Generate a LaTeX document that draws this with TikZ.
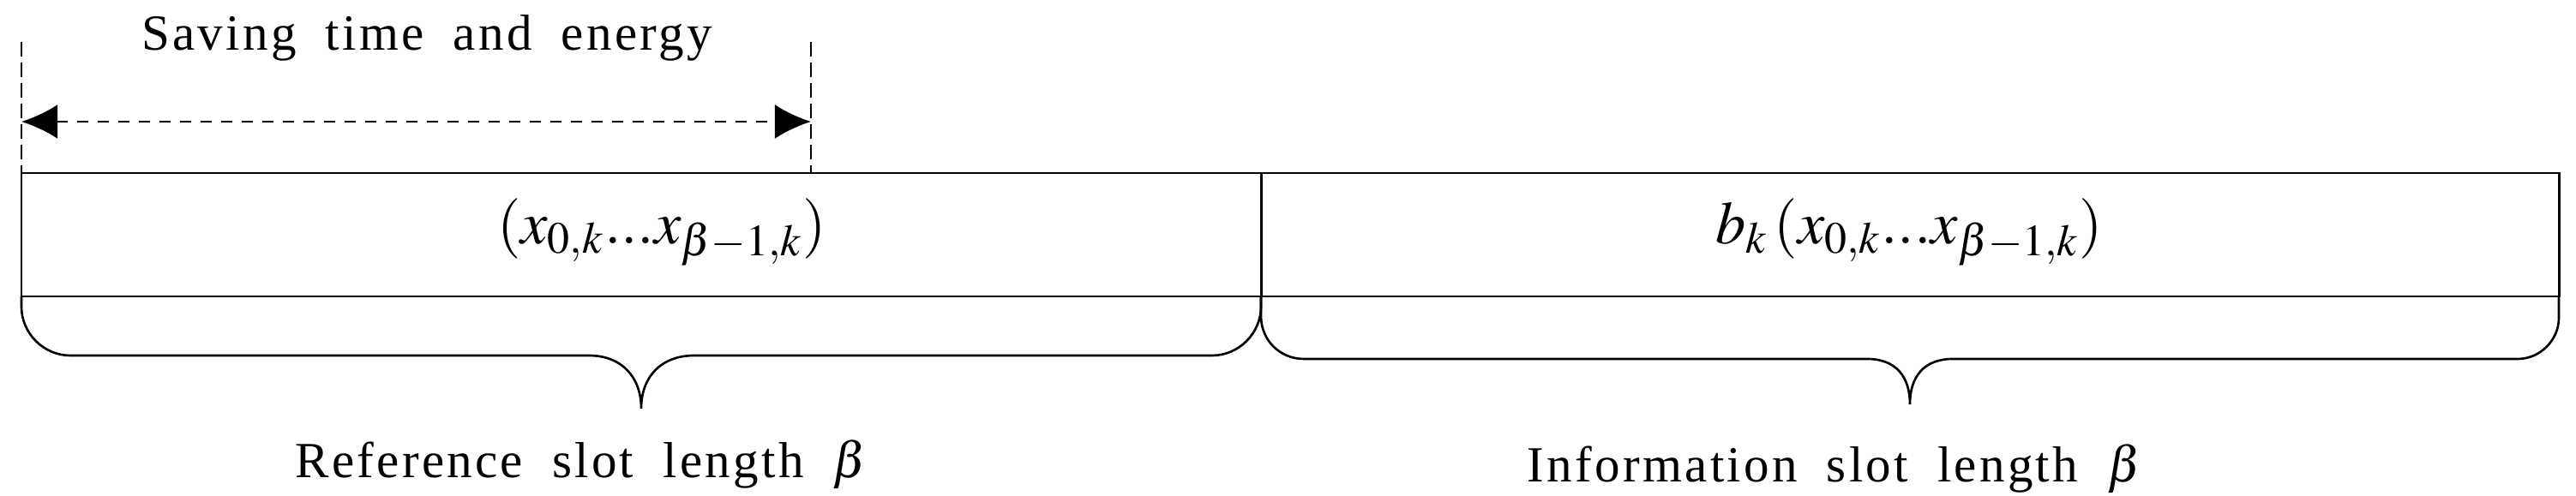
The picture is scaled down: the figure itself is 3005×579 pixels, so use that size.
\documentclass[tikz,border=0pt]{standalone}
\usepackage{mathptmx}
\usepackage[no-math]{fontspec}
\newfontfamily\slotfont[WordSpace=1.9,LetterSpace=5.5]{Liberation Serif}
\usetikzlibrary{arrows.meta}
\newcommand{\slotdots}{{\ldotp}{\ldotp}{\ldotp}}
\begin{document}
\begin{tikzpicture}[x=0.01cm,y=-0.01cm,
    slotlabel/.style={font=\slotfont\fontsize{16.8}{20}\selectfont, anchor=base, inner sep=0pt},
    slotformula/.style={font=\fontsize{20}{24}\selectfont, inner sep=0pt},
    slotline/.style={line width=0.85pt},
    brace/.style={line width=0.75pt}]
    \useasboundingbox (0,0) rectangle (3005,579);
    % the two slots
    \draw[slotline] (25,202) rectangle (2985,346);
    \draw[slotline] (1471,202) -- (1471,346);
    \node[slotformula] (refformula) at (772,271) {$(x_{0,k}\slotdots x_{\beta-1,k})$};
    \node[slotformula] (infoformula) at (2227,271) {$b_k\,(x_{0,k}\slotdots x_{\beta-1,k})$};
    % saving time and energy
    \coordinate (savel) at (25,142);
    \coordinate (saver) at (946,142);
    \foreach \x in {25,946}
    \draw[line width=0.6pt, dash pattern=on 0.17cm off 0.07cm] (\x,49) -- (\x,202);
    \draw[line width=0.85pt, dash pattern=on 0.13cm off 0.11cm, {Latex[length=0.42cm,width=0.40cm]}-{Latex[length=0.42cm,width=0.40cm]}] (savel) -- (saver);
    \node[slotlabel] (saving) at (498,59) {Saving time and energy};
    % braces under the slots
    \draw[brace] (25,346) -- (25,358) .. controls (25,389) and (51,415) .. (82,415) -- (687,415)
        .. controls (725,415) and (748,440) .. (748,477) .. controls (748,440) and (771,415) .. (810,415)
        -- (1414,415) .. controls (1445,415) and (1471,389) .. (1471,358) -- (1471,346);
    \draw[brace] (1471,346) -- (1471,369) .. controls (1471,397) and (1493,419) .. (1521,419) -- (2178,419)
        .. controls (2212,419) and (2228,440) .. (2228,472) .. controls (2228,440) and (2244,419) .. (2278,419)
        -- (2937,419) .. controls (2963,419) and (2985,397) .. (2985,371) -- (2985,346);
    \node[slotlabel] (reflabel) at (678,557) {Reference slot length $\beta$};
    \node[slotlabel] (infolabel) at (2140,562) {Information slot length $\beta$};
\end{tikzpicture}
\end{document}
